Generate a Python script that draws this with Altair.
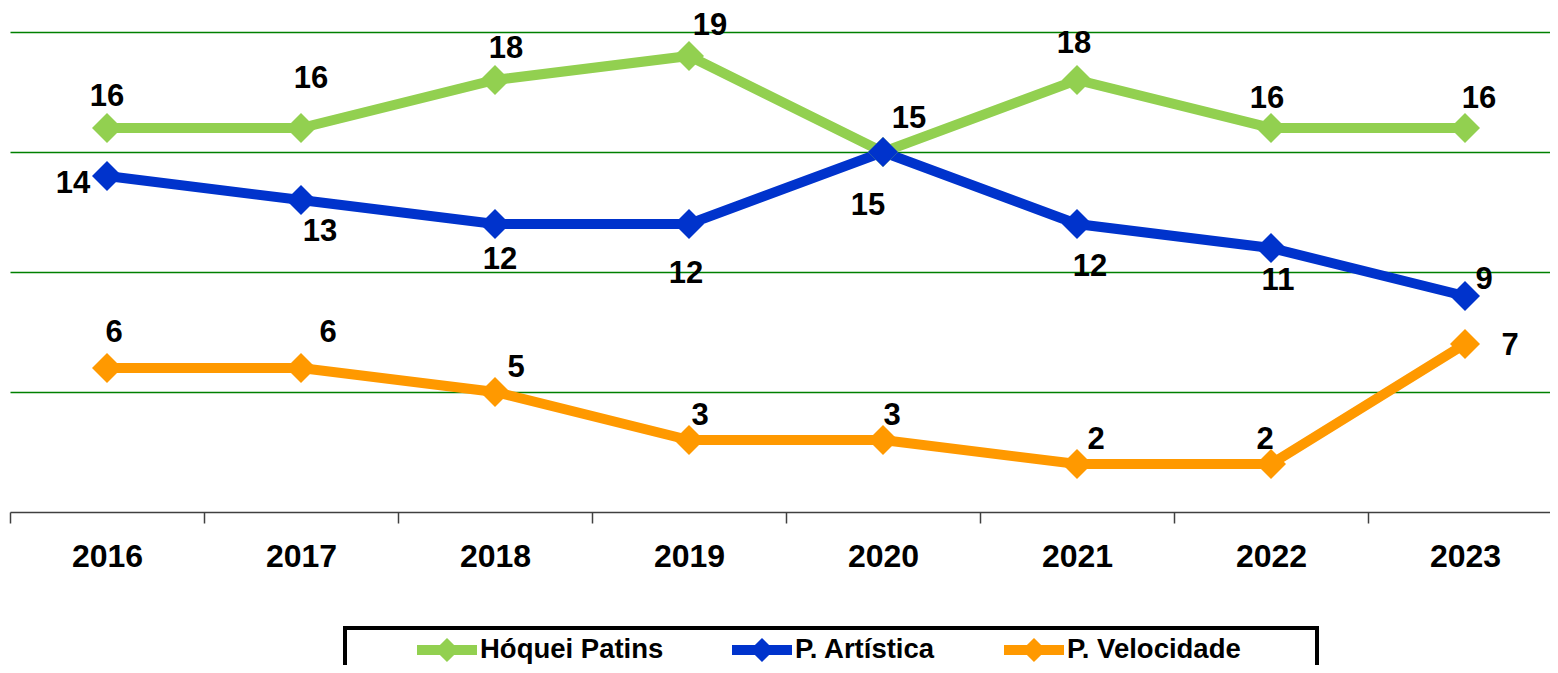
import altair as alt
import pandas as pd

years = ["2016", "2017", "2018", "2019", "2020", "2021", "2022", "2023"]
series_names = ["Hóquei Patins", "P. Artística", "P. Velocidade"]
hoquei = [16, 16, 18, 19, 15, 18, 16, 16]
artistica = [14, 13, 12, 12, 15, 12, 11, 9]
velocidade = [6, 6, 5, 3, 3, 2, 2, 7]
colors = ["#92D050", "#0033CC", "#FF9900"]

# label offsets (pixels, style only)
hoquei_dx = [0, 10, 11, 21, 26, -3, -4, 14]
hoquei_dy = [-31, -49, -31, -30, -33, -36, -29, -29]
artistica_dx = [-34, 19, 5, -3, -15, 13, 7, 19]
artistica_dy = [8, 32, 36, 50, 54, 43, 33, -16]
velocidade_dx = [7, 27, 21, 11, 9, 19, -6, 45]
velocidade_dy = [-35, -35, -24, -24, -24, -24, -24, 2]

FONT = "Liberation Sans"
X_RANGE = 1552
HALF_BAND = X_RANGE / len(years) / 2

rows = []
for name, vals, dxs, dys in [
    (series_names[0], hoquei, hoquei_dx, hoquei_dy),
    (series_names[1], artistica, artistica_dx, artistica_dy),
    (series_names[2], velocidade, velocidade_dx, velocidade_dy),
]:
    for y, v, dx, dy in zip(years, vals, dxs, dys):
        rows.append({"Ano": y, "Serie": name, "Valor": v, "dx": dx + HALF_BAND, "dy": dy})
df = pd.DataFrame(rows)

x_enc = alt.X(
    "Ano:N",
    sort=years,
    scale=alt.Scale(type="band", paddingInner=0, paddingOuter=0, range=[0, X_RANGE]),
    axis=alt.Axis(
        title=None, labelAngle=0, tickBand="extent", grid=False,
        labelFont=FONT, labelFontSize=32, labelFontWeight="bold", labelColor="black",
        labelPadding=18, tickSize=11, tickColor="#404040", tickWidth=1.5,
        domainColor="#404040", domainWidth=1.5,
    ),
)
y_enc = alt.Y(
    "Valor:Q",
    scale=alt.Scale(domain=[0, 20]),
    axis=alt.Axis(
        values=[5, 10, 15, 20], grid=True, labels=False, ticks=False, domain=False,
        title=None, gridColor="#008000", gridWidth=1.5,
    ),
)

LEGEND_SYMBOL = "M-3,0L3,0M-0.5,0L0,-0.5L0.5,0L0,0.5Z"

lines = alt.Chart(df).mark_line(
    strokeWidth=10,
    point=alt.OverlayMarkDef(shape="diamond", size=900, filled=True, opacity=1),
).encode(
    x=x_enc,
    y=y_enc,
    color=alt.Color(
        "Serie:N",
        sort=series_names,
        scale=alt.Scale(domain=series_names, range=colors),
        legend=alt.Legend(
            title=" ", titleOrient="right", titlePadding=69, titleFontSize=8,
            orient="none", legendX=335, legendY=596,
            direction="horizontal", columns=3,
            symbolType=LEGEND_SYMBOL, symbolSize=400, symbolStrokeWidth=10,
            symbolOffset=80, columnPadding=3, labelOffset=18, labelLimit=500,
            labelFont=FONT, labelFontSize=27.5, labelFontWeight="bold", labelColor="black",
            strokeColor="black", padding=7,
        ),
    ),
)

label_layers = []
for d in sorted(set(df["dy"])):
    label_layers.append(
        alt.Chart(df)
        .transform_filter(alt.datum.dy == d)
        .mark_text(
            font=FONT, fontSize=31, fontWeight="bold", color="black",
            align="center", baseline="middle", dy=d,
        )
        .encode(
            x=x_enc,
            y=y_enc,
            text="Valor:Q",
            xOffset=alt.XOffset("dx:Q", scale=None),
        )
    )

chart = alt.layer(lines, *label_layers).properties(
    width=1540,
    height=480,
    autosize=alt.AutoSizeParams(type="none"),
    padding={"left": 2, "top": 24, "right": 0, "bottom": 153},
).configure_view(stroke=None).configure_legend(strokeWidth=4)

chart.save("out.html", embed_options={"renderer": "svg", "actions": False})
